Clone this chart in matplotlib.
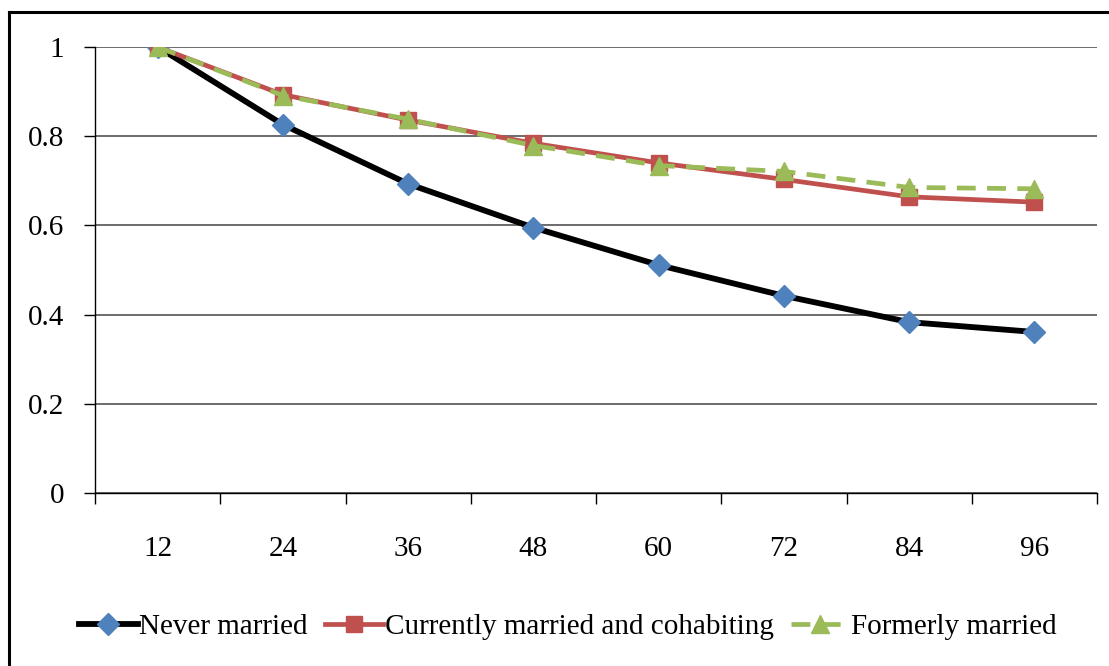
import numpy as np
import matplotlib
matplotlib.use("Agg")
import matplotlib.pyplot as plt
from matplotlib.lines import Line2D

plt.rcParams['font.family'] = ['Liberation Serif', 'DejaVu Serif']

months = ['12', '24', '36', '48', '60', '72', '84', '96']
never_married = [1.0, 0.826, 0.693, 0.595, 0.511, 0.442, 0.383, 0.361]
currently_married = [1.0, 0.893, 0.836, 0.784, 0.740, 0.703, 0.664, 0.652]
formerly_married = [1.0, 0.891, 0.838, 0.779, 0.734, 0.721, 0.685, 0.682]

fig = plt.figure(figsize=(11.09, 6.66), dpi=100)
ax = fig.add_axes([0.0857, 0.2598, 0.9035, 0.6697])

x = np.arange(len(months))
ax.plot(x, never_married, color='black', lw=4.2, marker='D', ms=11,
        mfc='#4F81BD', mec='#4F81BD', label='Never married', zorder=3)
ax.plot(x, currently_married, color='#C0504D', lw=3.4, marker='s', ms=12,
        mfc='#C0504D', mec='#C0504D', label='Currently married and cohabiting', zorder=4)
ax.plot(x, formerly_married, color='#9BBB59', lw=3.4, ls=(0, (4.0, 2.4)), marker='^', ms=13,
        mfc='#9BBB59', mec='#9BBB59', label='Formerly married', zorder=5)

ax.set_xlim(-0.5, len(months) - 0.5)
ax.set_ylim(0, 1)
ax.set_yticks([0, 0.2, 0.4, 0.6, 0.8, 1.0])
ax.set_yticklabels(['0', '0.2', '0.4', '0.6', '0.8', '1'])
ax.yaxis.grid(True, color='#444444', lw=1.1)
ax.set_axisbelow(True)

# category ticks between the labels, labels centred on categories
ax.set_xticks(np.arange(len(months) + 1) - 0.5)
ax.set_xticklabels([])
ax.set_xticks(x, minor=True)
ax.set_xticklabels(months, minor=True)
ax.tick_params(axis='x', which='major', length=8, width=1, direction='out')
ax.tick_params(axis='x', which='minor', length=0, pad=31, labelsize=21)
ax.tick_params(axis='y', length=8, width=1, direction='out', pad=14, labelsize=21)

for s in ['top', 'right']:
    ax.spines[s].set_visible(False)
ax.spines['left'].set_linewidth(1)
ax.spines['bottom'].set_linewidth(1)

fig.legend(loc='center', bbox_to_anchor=(568 / 1109, 1 - 627 / 666), ncol=3,
           frameon=False, fontsize=21, handlelength=2.0, handletextpad=0.05,
           columnspacing=0.6)

# outer frame (top and left edges)
fig.add_artist(Line2D([9 / 1109, 1.0], [1 - 12 / 666, 1 - 12 / 666], color='black', lw=2.2))
fig.add_artist(Line2D([9 / 1109, 9 / 1109], [0.0, 1 - 12 / 666], color='black', lw=2.2))

fig.savefig('out.png', dpi=100)
